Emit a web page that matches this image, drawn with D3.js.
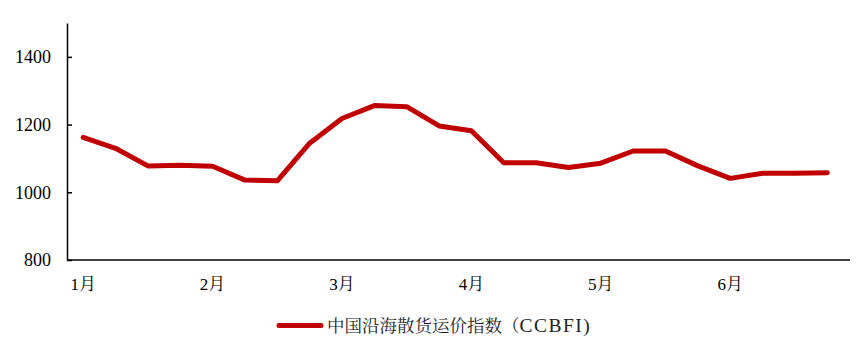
<!DOCTYPE html>
<html><head><meta charset="utf-8">
<script src="https://cdn.jsdelivr.net/npm/d3@7"></script>
<style>
body{margin:0;background:#fff;}
</style></head><body>
<svg id="c" width="865" height="354"></svg>
<script>
const periods = d3.range(24).map(i => "w" + (i + 1));
const monthLabels = ["1月","","","","2月","","","","3月","","","","4月","","","","5月","","","","6月","","",""];
const seriesName = "中国沿海散货运价指数（CCBFI)";
const ccbfi = [1162,1130,1078,1080,1077,1036,1034,1145,1218,1256,1253,1196,1182,1087,1087,1073,1086,1122,1122,1078,1041,1056,1056,1058];
const yTicks = [800,1000,1200,1400];

(function(){
const FONT = "'Liberation Serif','Times New Roman','Noto Serif CJK SC','Noto Sans CJK SC',serif";
const svg = d3.select("#c");
const mL = 67, mR = 843.5, axisEnd = 850, mT = 23, mB = 260;
const x = d3.scaleBand().domain(periods).range([mL, mR]);
const y = d3.scaleLinear().domain([800, 1500]).range([mB, mT]);

const ya = svg.append("g").attr("transform", `translate(${mL},0)`)
  .call(d3.axisLeft(y).tickValues(yTicks).tickFormat(d3.format("d")).tickSize(-5).tickPadding(16).tickSizeOuter(0));
ya.attr("font-family", FONT);
ya.select(".domain").attr("stroke","#000").attr("stroke-width",1.5);
ya.selectAll(".tick line").attr("stroke","#000").attr("stroke-width",1.5);
ya.selectAll("text").attr("font-size",18).attr("fill","#000");

const xa = svg.append("g").attr("transform", `translate(0,${mB})`)
  .call(d3.axisBottom(x).tickSize(0).tickPadding(18).tickFormat((d,i)=>monthLabels[i]));
xa.attr("font-family", FONT);
xa.select(".domain").attr("d", `M${mL},0H${axisEnd}`).attr("stroke","#000").attr("stroke-width",1.5);
xa.selectAll("text").attr("font-size",17).attr("fill","#000");

const line = d3.line().x((d,i)=>x(periods[i]) + x.bandwidth()/2).y(d=>y(d));
svg.append("path").datum(ccbfi).attr("d", line)
  .attr("fill","none").attr("stroke","#C00000").attr("stroke-width",5)
  .attr("stroke-linejoin","round").attr("stroke-linecap","round");

const lg = svg.append("g");
lg.append("line").attr("x1",279).attr("x2",321).attr("y1",325.5).attr("y2",325.5)
  .attr("stroke","#C00000").attr("stroke-width",5).attr("stroke-linecap","round");
const cut = seriesName.indexOf("（") + 1;
const t = lg.append("text").attr("x",327).attr("y",332).attr("font-size",17.5).attr("fill","#222")
  .attr("font-family", FONT);
t.append("tspan").text(seriesName.slice(0, cut));
t.append("tspan").attr("font-size",19.5).attr("letter-spacing",1.5).text(seriesName.slice(cut));
})();
</script></body></html>
